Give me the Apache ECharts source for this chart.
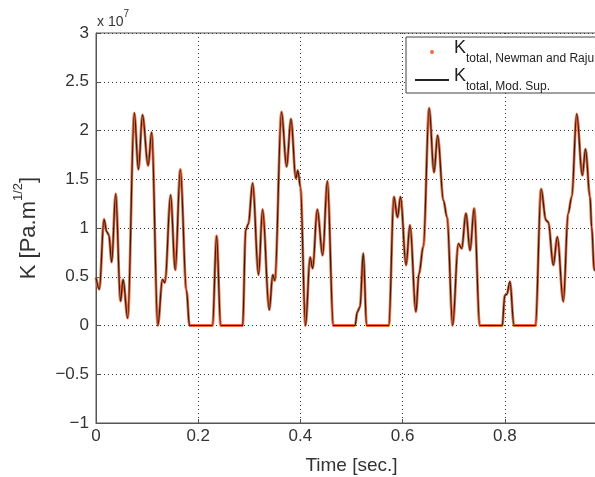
<!DOCTYPE html>
<html style="height: 100%">
   <head>
       <meta charset="utf-8">
   </head>
   <body style="height: 100%; margin: 0; background: #fff">
       <div id="kChart" style="width: 595px; height: 477px"></div>
       <script src="https://cdn.jsdelivr.net/npm/echarts@6/dist/echarts.min.js"></script>
       <script type="text/javascript">
       // time axis [sec.]
       var timeSec = [
           0.000, 0.0065, 0.0157, 0.021, 0.025, 0.0307, 0.0385, 0.048, 0.053, 0.062,
           0.075, 0.083, 0.091, 0.102, 0.109, 0.121, 0.130, 0.135, 0.146, 0.155,
           0.165, 0.177, 0.183, 0.228, 0.236, 0.244, 0.287, 0.293, 0.298, 0.3066,
           0.318, 0.326, 0.339, 0.346, 0.350, 0.363, 0.373, 0.3816, 0.391, 0.395,
           0.400, 0.410, 0.419, 0.424, 0.433, 0.4436, 0.4527, 0.4645, 0.507, 0.5114,
           0.5166, 0.523, 0.5297, 0.573, 0.583, 0.590, 0.596, 0.6067, 0.6145, 0.626,
           0.632, 0.6406, 0.652, 0.6614, 0.6686, 0.680, 0.687, 0.698, 0.709, 0.7156,
           0.724, 0.732, 0.740, 0.751, 0.795, 0.800, 0.804, 0.810, 0.818, 0.860,
           0.871, 0.8806, 0.885, 0.895, 0.9028, 0.9145, 0.924, 0.931, 0.9407, 0.9517,
           0.958, 0.9667, 0.970, 0.975, 1.000
       ];
       // K total (x 1e7 Pa.m^1/2), Newman and Raju
       var kNewman = [
           0.49, 0.37, 1.09, 0.96, 0.93, 0.65, 1.35, 0.25, 0.47, 0.075,
           2.18, 1.60, 2.16, 1.64, 1.98, 0.00, 0.47, 0.44, 1.34, 0.57,
           1.60, 0.36, 0.00, 0.00, 0.92, 0.00, 0.00, 0.98, 1.04, 1.46,
           0.52, 1.19, 0.16, 0.52, 0.46, 2.19, 1.63, 2.12, 1.51, 1.59,
           1.42, 0.00, 0.70, 0.585, 1.19, 0.72, 1.48, 0.00, 0.00, 0.14,
           0.19, 0.74, 0.00, 0.00, 1.32, 1.11, 1.32, 0.62, 1.03, 0.14,
           0.53, 0.81, 2.23, 1.57, 1.95, 1.28, 1.11, 0.00, 0.84, 0.79,
           1.15, 0.77, 1.20, 0.00, 0.00, 0.31, 0.32, 0.45, 0.00, 0.00,
           1.40, 1.08, 1.06, 0.62, 0.91, 0.245, 1.15, 1.32, 2.17, 1.54,
           1.81, 1.32, 1.01, 0.57, 0.20
       ];
       // K total, Mod. Sup. (lies on top of Newman and Raju)
       var kModSup = kNewman.slice();

       var yTicks = [-1, -0.5, 0, 0.5, 1, 1.5, 2, 2.5, 3];

       function pairs(xs, ys) {
           var out = [];
           for (var i = 0; i < xs.length; i++) {
               out.push([xs[i], ys[i]]);
           }
           return out;
       }

       var font = 'Liberation Sans, Arial, sans-serif';
       var dom = document.getElementById("kChart");
       var myChart = echarts.init(dom);
       var option = {
           animation: false,
           backgroundColor: '#fff',
           // the plot runs past the right edge of the picture (x = 1 is cut off)
           grid: {
               left: 96, top: 33, width: 511, bottom: 54,
               outerBoundsMode: 'none', containLabel: false,
               show: true, borderColor: '#555', borderWidth: 1
           },
           graphic: [{
               type: 'text', left: 97, top: 9,
               style: {
                   text: '{a|x 10}{b|7}',
                   rich: {
                       a: { fontSize: 14, fontFamily: font, fill: '#333', lineHeight: 20, verticalAlign: 'bottom' },
                       b: { fontSize: 10, fontFamily: font, fill: '#333', lineHeight: 20, verticalAlign: 'top' }
                   }
               }
           }],
           legend: {
               left: 406, top: 37,
               orient: 'vertical',
               backgroundColor: '#fff',
               borderColor: '#444', borderWidth: 1, borderRadius: 0,
               padding: [2, 10, 0, 8],
               itemGap: 2, itemWidth: 34, itemHeight: 4,
               data: [
                   { name: 'newman', icon: 'circle', itemStyle: { color: '#f26b3b' } },
                   { name: 'modsup', itemStyle: { opacity: 0, borderWidth: 0 } }
               ],
               formatter: function (name) {
                   var sub = name === 'newman' ? 'total, Newman and Raju' : 'total, Mod. Sup.';
                   return '{k|K}{s|' + sub + '}';
               },
               textStyle: {
                   rich: {
                       k: { fontSize: 18, fontFamily: font, color: '#222', lineHeight: 26, verticalAlign: 'top' },
                       s: { fontSize: 12, fontFamily: font, color: '#222', lineHeight: 26, verticalAlign: 'bottom' }
                   }
               }
           },
           xAxis: {
               type: 'value', min: 0, max: 1, interval: 0.2,
               name: 'Time [sec.]', nameLocation: 'middle', nameGap: 33,
               nameTextStyle: { fontSize: 19, fontFamily: font, color: '#333' },
               axisLine: { show: true, onZero: false, lineStyle: { color: '#555', width: 1 } },
               axisTick: { show: true, inside: true, length: 4, lineStyle: { color: '#555' } },
               axisLabel: { fontSize: 17, fontFamily: font, color: '#333', margin: 5 },
               splitLine: { show: true, lineStyle: { color: '#333', type: [1, 3], width: 1 } }
           },
           yAxis: {
               type: 'value', min: yTicks[0], max: yTicks[yTicks.length - 1], interval: 0.5,
               name: '{a|K [Pa.m}{b|1/2}{a|]}', nameLocation: 'middle', nameGap: 56,
               nameTextStyle: {
                   rich: {
                       a: { fontSize: 22, fontFamily: font, color: '#333', lineHeight: 28, verticalAlign: 'bottom' },
                       b: { fontSize: 13, fontFamily: font, color: '#333', lineHeight: 28, verticalAlign: 'top' }
                   }
               },
               axisLine: { show: true, lineStyle: { color: '#555', width: 1 } },
               axisTick: { show: true, inside: true, length: 4, lineStyle: { color: '#555' } },
               axisLabel: {
                   fontSize: 17, fontFamily: font, color: '#333', margin: 7,
                   formatter: function (v) { return String(v).replace('-', '\u2212'); }
               },
               splitLine: { show: true, lineStyle: { color: '#333', type: [1, 3], width: 1 } }
           },
           series: [
               {
                   name: 'newman', type: 'line',
                   data: pairs(timeSec, kNewman),
                   smooth: 0.35, smoothMonotone: 'x',
                   showSymbol: false, symbol: 'circle',
                   itemStyle: { color: '#f26b3b' },
                   lineStyle: { color: '#f26b3b', width: 2.8 },
                   z: 2
               },
               {
                   name: 'modsup', type: 'line',
                   data: pairs(timeSec, kModSup),
                   smooth: 0.35, smoothMonotone: 'x',
                   showSymbol: false, symbol: 'none',
                   itemStyle: { color: '#222' },
                   lineStyle: { color: '#222', width: 1.2 },
                   z: 3
               }
           ]
       };
       myChart.setOption(option, true);
       </script>
   </body>
</html>
